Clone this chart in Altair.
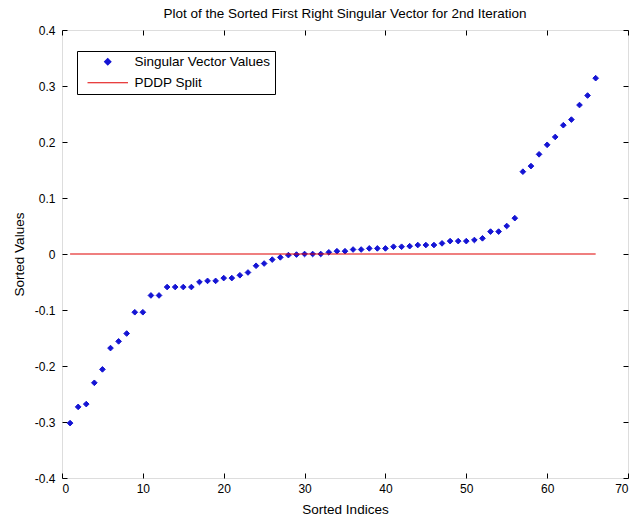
import altair as alt
import pandas as pd

indices = list(range(1, 67))
values = [
    -0.302, -0.273, -0.268, -0.230, -0.206, -0.168, -0.156, -0.142, -0.104, -0.104,
    -0.074, -0.074, -0.059, -0.059, -0.059, -0.059, -0.050, -0.048, -0.048, -0.043,
    -0.043, -0.038, -0.033, -0.021, -0.017, -0.010, -0.006, -0.002, -0.001, 0.000,
    0.000, 0.000, 0.003, 0.005, 0.005, 0.008, 0.008, 0.010, 0.010, 0.010,
    0.013, 0.013, 0.014, 0.016, 0.016, 0.016, 0.019, 0.023, 0.023, 0.023,
    0.025, 0.028, 0.040, 0.040, 0.050, 0.064, 0.147, 0.157, 0.178, 0.195,
    0.209, 0.230, 0.240, 0.266, 0.283, 0.314,
]
split_x = [1, 66]
split_y = [0, 0]
series_names = ["Singular Vector Values", "PDDP Split"]
x_ticks = [0, 10, 20, 30, 40, 50, 60, 70]
y_ticks = [-0.4, -0.3, -0.2, -0.1, 0, 0.1, 0.2, 0.3, 0.4]

BLUE = "#1414d4"
RED = "#e00000"
FONT = "Liberation Sans"

pts = pd.DataFrame({"idx": indices, "val": values, "series": series_names[0]})
split = pd.DataFrame({"idx": split_x, "val": split_y})

xscale = alt.Scale(domain=[0, 70], nice=False, zero=False)
yscale = alt.Scale(domain=[-0.4, 0.4], nice=False, zero=False)

ylabel_expr = ("datum.value == 0 ? '0' : (datum.value < 0 ? '-' + format(-datum.value, '.1f') "
               ": format(datum.value, '.1f'))")

legend = alt.Legend(
    title=None, orient="none", legendX=15, legendY=21,
    strokeColor="black", fillColor="white", padding=4,
    labelFont=FONT, labelFontSize=13.5, labelColor="black",
    symbolSize=40, symbolStrokeWidth=1.2, symbolOffset=20, labelOffset=20,
    symbolOpacity=1, rowPadding=6,
)

points = alt.Chart(pts).mark_point(filled=True, size=32, strokeWidth=1, opacity=1).encode(
    x=alt.X("idx:Q", scale=xscale, axis=alt.Axis(
        values=x_ticks, format="d", offset=-5, tickSize=5, domain=False, grid=False,
        labelPadding=5, labelFont=FONT, labelFontSize=12, labelColor="black",
        tickColor="black", title="Sorted Indices", titleFont=FONT, titleFontSize=13.5,
        titleFontWeight="normal", titleColor="black", titlePadding=8)),
    y=alt.Y("val:Q", scale=yscale, axis=alt.Axis(
        values=y_ticks, labelExpr=ylabel_expr, offset=-5, tickSize=5, domain=False, grid=False,
        labelPadding=7, labelFont=FONT, labelFontSize=12, labelColor="black",
        tickColor="black", title="Sorted Values", titleFont=FONT, titleFontSize=13.5,
        titleFontWeight="normal", titleColor="black", titlePadding=8)),
    fill=alt.Fill("series:N", scale=alt.Scale(domain=series_names, range=[BLUE, RED]), legend=legend),
    stroke=alt.Stroke("series:N", scale=alt.Scale(domain=series_names, range=[BLUE, RED]), legend=legend),
    shape=alt.Shape("series:N", scale=alt.Scale(domain=series_names, range=["diamond", "M-6.4,0H6.4"]), legend=legend),
)

line = alt.Chart(split).mark_line(color=RED, strokeWidth=1.2, opacity=1).encode(
    x=alt.X("idx:Q", scale=xscale, axis=alt.Axis(
        orient="top", values=x_ticks, labels=False, offset=-5, tickSize=5, domain=False,
        grid=False, tickColor="black", title=None)),
    y=alt.Y("val:Q", scale=yscale, axis=alt.Axis(
        orient="right", values=y_ticks, labels=False, offset=-5, tickSize=5, domain=False,
        grid=False, tickColor="black", title=None)),
)

chart = alt.layer(points, line).resolve_axis(x="independent", y="independent").properties(
    width=566, height=448,
    autosize=alt.AutoSizeParams(type="none"),
    padding={"left": 62, "top": 30, "right": 12, "bottom": 44},
    title=alt.TitleParams(
        "Plot of the Sorted First Right Singular Vector for 2nd Iteration",
        font=FONT, fontSize=13.5, fontWeight="normal", color="black", offset=4, anchor="middle"),
).configure_view(stroke="black", strokeWidth=1).configure(background="white")

chart.save("out.html", embed_options={"renderer": "svg", "actions": False})
